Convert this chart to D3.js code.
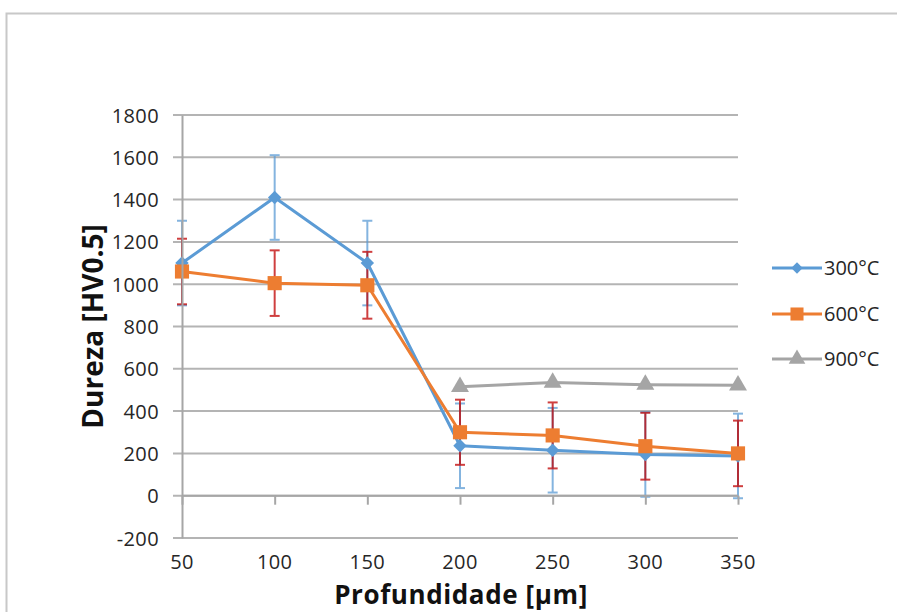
<!DOCTYPE html>
<html>
<head>
<meta charset="utf-8">
<script src="https://d3js.org/d3.v7.min.js"></script>
<style>
  body { margin: 0; background: #fff; }
  text { font-family: "Open Sans", "Liberation Sans", sans-serif; fill: #262626; }
</style>
</head>
<body>
<div id="chart"></div>
<script>
// data
var depths = [50, 100, 150, 200, 250, 300, 350];
var yTicks = [-200, 0, 200, 400, 600, 800, 1000, 1200, 1400, 1600, 1800];
var seriesNames = ["300°C", "600°C", "900°C"];
var hard300 = [1100, 1410, 1100, 236, 215, 195, 188];
var err300 = [200, 200, 200, 200, 200, 200, 200];
var hard600 = [1060, 1005, 995, 300, 285, 234, 200];
var err600 = [155, 155, 158, 154, 156, 158, 155];
var hard900 = [null, null, null, 515, 535, 525, 522];

var width = 897, height = 612;
var margin = { top: 115, right: 159, bottom: 74, left: 182 };

var svg = d3.select("#chart").append("svg")
  .attr("width", width)
  .attr("height", height);

// outer frame
svg.append("rect")
  .attr("x", 6.5).attr("y", 13.5)
  .attr("width", 1000).attr("height", 1000)
  .attr("fill", "none")
  .attr("stroke", "#c8c8c8")
  .attr("stroke-width", 2);

var x = d3.scaleLinear().domain([50, 350]).range([margin.left, width - margin.right]);
var y = d3.scaleLinear().domain([-200, 1800]).range([height - margin.bottom, margin.top]);

var g = svg.append("g");

// gridlines
g.selectAll(".grid")
  .data(yTicks)
  .enter().append("line")
  .attr("class", "grid")
  .attr("x1", margin.left - 9)
  .attr("x2", x(350))
  .attr("y1", function(d) { return y(d); })
  .attr("y2", function(d) { return y(d); })
  .style("stroke", "#b4b4b4")
  .style("stroke-width", 2);

// y axis
var yAxis = d3.axisLeft(y).tickValues(yTicks).tickSize(0).tickPadding(23)
  .tickFormat(function(d) { return String(d); });
var yg = svg.append("g")
  .attr("transform", "translate(" + margin.left + ",0)")
  .call(yAxis);
yg.select(".domain").style("stroke", "#a6a6a6").style("stroke-width", 2);
yg.selectAll("text").style("font-size", "20px").style("letter-spacing", "0.4px")
  .style("fill", "#262626").attr("dy", "0.35em");

// x axis crossing at 0
var xAxis = d3.axisBottom(x).tickValues(depths).tickSize(9).tickFormat("");
var xg = svg.append("g")
  .attr("transform", "translate(0," + y(0) + ")")
  .call(xAxis);
xg.select(".domain").style("stroke", "#a6a6a6").style("stroke-width", 2).attr("d", "M" + x(50) + ",0H" + x(350));
xg.selectAll(".tick line").style("stroke", "#a6a6a6").style("stroke-width", 2);

// x tick labels at bottom
svg.selectAll(".xlab")
  .data(depths)
  .enter().append("text")
  .attr("class", "xlab")
  .attr("x", function(d) { return x(d); })
  .attr("y", 569)
  .attr("text-anchor", "middle")
  .style("font-size", "20px")
  .style("letter-spacing", "0.4px")
  .text(function(d) { return d; });

// axis titles
svg.append("text")
  .attr("transform", "translate(103," + y(800) + ") rotate(-90)")
  .attr("text-anchor", "middle")
  .style("font-size", "28px")
  .style("font-weight", "bold")
  .style("fill", "#111")
  .text("Dureza [HV0.5]");

svg.append("text")
  .attr("x", 461)
  .attr("y", 604)
  .attr("text-anchor", "middle")
  .style("font-size", "26px")
  .style("font-weight", "bold")
  .style("letter-spacing", "0.6px")
  .style("fill", "#111")
  .text("Profundidade [µm]");

function rows(vals, errs) {
  return depths.map(function(d, i) {
    return { x: d, v: vals[i], e: errs ? errs[i] : 0 };
  }).filter(function(r) { return r.v !== null; });
}

var s300 = rows(hard300, err300);
var s600 = rows(hard600, err600);
var s900 = rows(hard900, null);

// error bars
function drawErr(data, color, op) {
  var eg = g.append("g").style("stroke", color).style("stroke-width", 2).style("opacity", op);
  eg.selectAll(".ev").data(data).enter().append("line")
    .attr("x1", function(d) { return x(d.x); })
    .attr("x2", function(d) { return x(d.x); })
    .attr("y1", function(d) { return y(d.v + d.e); })
    .attr("y2", function(d) { return y(d.v - d.e); });
  [1, -1].forEach(function(s) {
    eg.selectAll(".cap" + s).data(data).enter().append("line")
      .attr("x1", function(d) { return x(d.x) - 5; })
      .attr("x2", function(d) { return x(d.x) + 5; })
      .attr("y1", function(d) { return y(d.v + s * d.e); })
      .attr("y2", function(d) { return y(d.v + s * d.e); });
  });
}
drawErr(s300, "#5b9bd5", 0.75);
drawErr(s600, "#c00000", 0.75);

var line = d3.line()
  .x(function(d) { return x(d.x); })
  .y(function(d) { return y(d.v); });

var colors = ["#5b9bd5", "#ed7d31", "#a5a5a5"];
// diamond = square turned 45 degrees
var symbols = [d3.symbolSquare, d3.symbolSquare, d3.symbolTriangle];
var rotations = [45, 0, 0];
var sizes = [90, 200, 140];
var allData = [s300, s600, s900];

allData.forEach(function(data, i) {
  g.append("path")
    .datum(data)
    .attr("d", line)
    .attr("fill", "none")
    .attr("stroke", colors[i])
    .attr("stroke-width", 3)
    .attr("stroke-linejoin", "round");
  g.selectAll(".m" + i).data(data).enter().append("path")
    .attr("transform", function(d) {
      return "translate(" + x(d.x) + "," + y(d.v) + ") rotate(" + rotations[i] + ")";
    })
    .attr("d", d3.symbol().type(symbols[i]).size(sizes[i]))
    .attr("fill", colors[i]);
});

// legend
var legend = svg.append("g");
var legY = [268, 314, 359];
var legSizes = [65, 170, 120];
seriesNames.forEach(function(name, i) {
  var lg = legend.append("g").attr("transform", "translate(0," + legY[i] + ")");
  lg.append("line").attr("x1", 772).attr("x2", 822).attr("y1", 0).attr("y2", 0)
    .attr("stroke", colors[i]).attr("stroke-width", 3);
  lg.append("path").attr("transform", "translate(797,0) rotate(" + rotations[i] + ")")
    .attr("d", d3.symbol().type(symbols[i]).size(legSizes[i]))
    .attr("fill", colors[i]);
  lg.append("text").attr("x", 824).attr("y", 0).attr("dy", "0.35em")
    .style("font-size", "20px")
    .text(name);
});
</script>
</body>
</html>
